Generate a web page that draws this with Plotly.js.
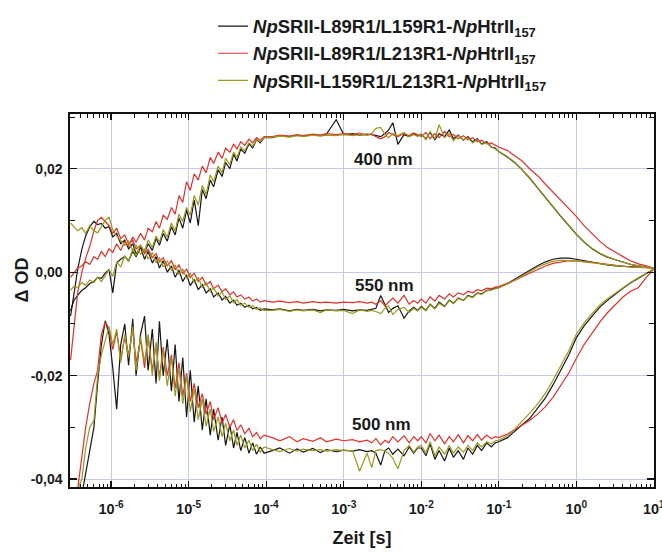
<!DOCTYPE html>
<html>
<head>
<meta charset="utf-8">
<script src="https://cdn.plot.ly/plotly-3.0.1.min.js"></script>
<style>html,body{margin:0;padding:0;background:#fff;}#chart{width:662px;height:554px;}</style>
</head>
<body>
<div id="chart"></div>
<script>
// Time axis (s)
const timeS = [
  3.0e-7, 3.3e-7, 3.7e-7, 4.2e-7, 4.7e-7, 5.3e-7, 6.0e-7, 6.7e-7, 7.5e-7, 8.4e-7,
  9.4e-7, 1.05e-6, 1.18e-6, 1.33e-6, 1.5e-6, 1.68e-6, 1.9e-6, 2.1e-6, 2.4e-6, 2.7e-6,
  3.0e-6, 3.4e-6, 3.8e-6, 4.2e-6, 4.7e-6, 5.3e-6, 6.0e-6, 6.7e-6, 7.5e-6, 8.4e-6,
  9.4e-6, 1.05e-5, 1.18e-5, 1.33e-5, 1.5e-5, 1.68e-5, 1.9e-5, 2.1e-5, 2.4e-5, 2.7e-5,
  3.0e-5, 3.4e-5, 3.8e-5, 4.2e-5, 4.7e-5, 5.3e-5, 6.0e-5, 6.7e-5, 7.5e-5, 8.4e-5,
  9.4e-5,
  1.2e-4, 1.5e-4, 2.0e-4, 2.5e-4, 3.0e-4, 4.0e-4, 5.0e-4, 6.0e-4, 8.0e-4, 1.0e-3,
  1.3e-3, 1.6e-3, 2.0e-3, 2.3e-3, 2.6e-3, 3.0e-3, 3.4e-3, 3.8e-3, 4.3e-3, 5.0e-3,
  6.0e-3, 7.0e-3, 8.0e-3, 9.0e-3,
  1.0e-2, 1.15e-2, 1.3e-2, 1.5e-2, 1.7e-2, 2.0e-2, 2.3e-2, 2.6e-2, 3.0e-2, 3.5e-2,
  4.0e-2, 4.6e-2, 5.3e-2, 6.0e-2, 7.0e-2, 8.0e-2, 9.0e-2,
  0.1, 0.13, 0.16, 0.2, 0.25, 0.32, 0.4, 0.5, 0.63, 0.8,
  1.0, 1.26, 1.6, 2.0, 2.5, 3.2, 4.0, 5.0, 6.3, 8.0, 10
];

// ---- L89R1/L159R1 (black)
const black400 = [
  -0.0075, -0.0055, -0.0045, -0.0035, -0.0030, -0.0022, -0.0018, -0.0010, -0.0012, -0.0002,
  0.0005, -0.0040, 0.0018, 0.0025, 0.0030, 0.0022, 0.0040, 0.0030, 0.0048, 0.0038,
  0.0055, 0.0042, 0.0065, 0.0052, 0.0075, 0.0060, 0.0088, 0.0072, 0.0105, 0.0085,
  0.0120, 0.0095, 0.0140, 0.0090, 0.0160, 0.0142, 0.0178, 0.0165, 0.0198, 0.0185,
  0.0212, 0.0200, 0.0228, 0.0215, 0.0238, 0.0230, 0.0248, 0.0240, 0.0256, 0.0250,
  0.0260,
  0.0260, 0.0264, 0.0262, 0.0265, 0.0263, 0.0266, 0.0264, 0.0267, 0.0295, 0.0266,
  0.0268, 0.0265, 0.0267, 0.0266, 0.0264, 0.0262, 0.0268, 0.0275, 0.0289, 0.0247,
  0.0266, 0.0262, 0.0268, 0.0264,
  0.0266, 0.0258, 0.0270, 0.0256, 0.0268, 0.0262, 0.0275, 0.0258, 0.0265, 0.0255,
  0.0262, 0.0252, 0.0258, 0.0248, 0.0252, 0.0242, 0.0240,
  0.0233, 0.0222, 0.0212, 0.0198, 0.0182, 0.0162, 0.0144, 0.0125, 0.0108, 0.0090,
  0.0073, 0.0058, 0.0045, 0.0036, 0.0029, 0.0024, 0.0019, 0.0015, 0.0012, 0.0010, 0.0008
];
const black550 = [
  -0.0085, -0.0040, 0.0005, 0.0045, 0.0070, 0.0088, 0.0098, 0.0092, 0.0094, 0.0085,
  0.0088, 0.0068, 0.0075, 0.0055, 0.0062, 0.0045, 0.0055, 0.0035, 0.0048, 0.0025,
  0.0040, 0.0018, 0.0030, 0.0008, 0.0022, 0.0000, 0.0012, -0.0010, 0.0004, -0.0018,
  -0.0005, -0.0026, -0.0014, -0.0034, -0.0024, -0.0040, -0.0032, -0.0048, -0.0040, -0.0054,
  -0.0047, -0.0060, -0.0054, -0.0064, -0.0060, -0.0068, -0.0064, -0.0071, -0.0068, -0.0074,
  -0.0071,
  -0.0073, -0.0071, -0.0075, -0.0072, -0.0074, -0.0072, -0.0075, -0.0073, -0.0074, -0.0072,
  -0.0075, -0.0073, -0.0074, -0.0072, -0.0070, -0.0045, -0.0062, -0.0078, -0.0070, -0.0065,
  -0.0089, -0.0075, -0.0068, -0.0074,
  -0.0066, -0.0074, -0.0062, -0.0070, -0.0058, -0.0066, -0.0054, -0.0060, -0.0050, -0.0055,
  -0.0045, -0.0048, -0.0040, -0.0042, -0.0035, -0.0034, -0.0031,
  -0.0030, -0.0022, -0.0014, -0.0005, 0.0004, 0.0013, 0.0020, 0.0025, 0.0027, 0.0027,
  0.0025, 0.0022, 0.0019, 0.0016, 0.0014, 0.0012, 0.0011, 0.0010, 0.0009, 0.0008, 0.0008
];
const black500 = [
  -0.0480, -0.0470, -0.0460, -0.0430, -0.0390, -0.0350, -0.0300, -0.0215, -0.0140, -0.0094,
  -0.0120, -0.0185, -0.0265, -0.0140, -0.0100, -0.0180, -0.0090, -0.0200, -0.0120, -0.0085,
  -0.0190, -0.0110, -0.0215, -0.0095, -0.0200, -0.0130, -0.0230, -0.0140, -0.0250, -0.0165,
  -0.0280, -0.0190, -0.0290, -0.0220, -0.0305, -0.0245, -0.0315, -0.0265, -0.0325, -0.0280,
  -0.0335, -0.0295, -0.0340, -0.0310, -0.0345, -0.0320, -0.0350, -0.0330, -0.0352, -0.0338,
  -0.0350,
  -0.0345, -0.0340, -0.0350, -0.0342, -0.0348, -0.0341, -0.0349, -0.0343, -0.0347, -0.0344,
  -0.0346, -0.0343, -0.0347, -0.0345, -0.0350, -0.0373, -0.0345, -0.0340, -0.0352, -0.0342,
  -0.0355, -0.0338, -0.0350, -0.0340,
  -0.0340, -0.0355, -0.0332, -0.0362, -0.0345, -0.0365, -0.0340, -0.0358, -0.0345, -0.0362,
  -0.0340, -0.0352, -0.0335, -0.0345, -0.0330, -0.0338, -0.0330,
  -0.0328, -0.0320, -0.0307, -0.0295, -0.0283, -0.0263, -0.0243, -0.0218, -0.0190, -0.0160,
  -0.0127, -0.0104, -0.0085, -0.0068, -0.0055, -0.0042, -0.0031, -0.0021, -0.0012, -0.0003, 0.0006
];

// ---- L89R1/L213R1 (red)
const red400 = [
  -0.0010, -0.0002, 0.0008, 0.0012, 0.0020, 0.0015, 0.0030, 0.0025, 0.0040, 0.0030,
  0.0045, 0.0038, 0.0055, 0.0042, 0.0060, 0.0050, 0.0068, 0.0058, 0.0075, 0.0062,
  0.0085, 0.0078, 0.0098, 0.0085, 0.0110, 0.0102, 0.0125, 0.0112, 0.0148, 0.0135,
  0.0175, 0.0158, 0.0190, 0.0178, 0.0205, 0.0192, 0.0222, 0.0210, 0.0232, 0.0220,
  0.0240, 0.0232, 0.0248, 0.0238, 0.0252, 0.0245, 0.0257, 0.0250, 0.0260, 0.0255,
  0.0262,
  0.0262, 0.0265, 0.0263, 0.0266, 0.0264, 0.0267, 0.0265, 0.0268, 0.0266, 0.0268,
  0.0266, 0.0269, 0.0265, 0.0267, 0.0262, 0.0258, 0.0262, 0.0270, 0.0266, 0.0262,
  0.0268, 0.0264, 0.0269, 0.0265,
  0.0262, 0.0270, 0.0258, 0.0268, 0.0260, 0.0272, 0.0262, 0.0266, 0.0258, 0.0264,
  0.0256, 0.0260, 0.0252, 0.0255, 0.0248, 0.0250, 0.0245,
  0.0242, 0.0235, 0.0225, 0.0215, 0.0200, 0.0186, 0.0170, 0.0155, 0.0140, 0.0125,
  0.0108, 0.0090, 0.0074, 0.0060, 0.0048, 0.0038, 0.0030, 0.0022, 0.0016, 0.0012, 0.0008
];
const red550 = [
  -0.0170, -0.0110, -0.0040, 0.0000, 0.0027, 0.0050, 0.0080, 0.0100, 0.0106, 0.0098,
  0.0090, 0.0075, 0.0085, 0.0065, 0.0072, 0.0055, 0.0062, 0.0045, 0.0052, 0.0036,
  0.0044, 0.0028, 0.0036, 0.0020, 0.0028, 0.0012, 0.0022, 0.0005, 0.0014, -0.0003,
  0.0006, -0.0010, -0.0002, -0.0018, -0.0010, -0.0025, -0.0018, -0.0032, -0.0025, -0.0038,
  -0.0032, -0.0044, -0.0038, -0.0048, -0.0044, -0.0052, -0.0048, -0.0056, -0.0052, -0.0058,
  -0.0055,
  -0.0058, -0.0056, -0.0059, -0.0057, -0.0060, -0.0057, -0.0059, -0.0058, -0.0060, -0.0058,
  -0.0059, -0.0057, -0.0060, -0.0058, -0.0062, -0.0055, -0.0065, -0.0058, -0.0050, -0.0060,
  -0.0045, -0.0062, -0.0055, -0.0060,
  -0.0052, -0.0060, -0.0048, -0.0056, -0.0045, -0.0052, -0.0042, -0.0048, -0.0040, -0.0044,
  -0.0037, -0.0040, -0.0034, -0.0036, -0.0031, -0.0032, -0.0029,
  -0.0028, -0.0022, -0.0016, -0.0009, -0.0002, 0.0006, 0.0012, 0.0017, 0.0020, 0.0022,
  0.0022, 0.0021, 0.0019, 0.0017, 0.0015, 0.0013, 0.0011, 0.0010, 0.0009, 0.0008, 0.0008
];
const red500 = [
  -0.0450, -0.0445, -0.0420, -0.0360, -0.0300, -0.0254, -0.0215, -0.0190, -0.0120, -0.0096,
  -0.0110, -0.0150, -0.0115, -0.0170, -0.0125, -0.0160, -0.0110, -0.0175, -0.0130, -0.0185,
  -0.0125, -0.0190, -0.0140, -0.0205, -0.0145, -0.0200, -0.0160, -0.0225, -0.0175, -0.0240,
  -0.0195, -0.0250, -0.0215, -0.0262, -0.0235, -0.0275, -0.0250, -0.0285, -0.0262, -0.0292,
  -0.0275, -0.0300, -0.0285, -0.0306, -0.0295, -0.0312, -0.0302, -0.0318, -0.0310, -0.0322,
  -0.0315,
  -0.0320, -0.0326, -0.0318, -0.0328, -0.0322, -0.0327, -0.0320, -0.0328, -0.0323, -0.0326,
  -0.0324, -0.0328, -0.0325, -0.0330, -0.0322, -0.0334, -0.0325, -0.0330, -0.0318, -0.0328,
  -0.0316, -0.0330, -0.0318, -0.0326,
  -0.0318, -0.0330, -0.0312, -0.0326, -0.0315, -0.0332, -0.0318, -0.0328, -0.0314, -0.0330,
  -0.0316, -0.0326, -0.0314, -0.0325, -0.0315, -0.0322, -0.0318,
  -0.0320, -0.0313, -0.0305, -0.0297, -0.0287, -0.0274, -0.0260, -0.0242, -0.0220, -0.0195,
  -0.0167, -0.0140, -0.0118, -0.0097, -0.0079, -0.0063, -0.0048, -0.0037, -0.0030, -0.0010, 0.0006
];

// ---- L159R1/L213R1 (olive)
const olive400 = [
  -0.0035, -0.0028, -0.0030, -0.0020, -0.0025, -0.0015, -0.0020, -0.0010, -0.0018, -0.0005,
  0.0005, -0.0008, 0.0020, 0.0010, 0.0032, 0.0020, 0.0045, 0.0032, 0.0052, 0.0040,
  0.0062, 0.0048, 0.0070, 0.0058, 0.0082, 0.0068, 0.0095, 0.0080, 0.0112, 0.0098,
  0.0125, 0.0110, 0.0148, 0.0130, 0.0168, 0.0150, 0.0188, 0.0175, 0.0205, 0.0192,
  0.0220, 0.0208, 0.0232, 0.0222, 0.0242, 0.0235, 0.0250, 0.0244, 0.0256, 0.0252,
  0.0260,
  0.0261, 0.0263, 0.0261, 0.0264, 0.0262, 0.0265, 0.0263, 0.0265, 0.0264, 0.0266,
  0.0264, 0.0266, 0.0265, 0.0268, 0.0278, 0.0280, 0.0266, 0.0260, 0.0268, 0.0264,
  0.0270, 0.0262, 0.0266, 0.0262,
  0.0268, 0.0256, 0.0272, 0.0258, 0.0285, 0.0260, 0.0268, 0.0254, 0.0264, 0.0256,
  0.0260, 0.0250, 0.0256, 0.0247, 0.0250, 0.0242, 0.0238,
  0.0234, 0.0223, 0.0213, 0.0199, 0.0183, 0.0163, 0.0145, 0.0126, 0.0109, 0.0091,
  0.0074, 0.0059, 0.0046, 0.0037, 0.0030, 0.0024, 0.0019, 0.0015, 0.0012, 0.0010, 0.0008
];
const olive550 = [
  0.0095, 0.0088, 0.0080, 0.0086, 0.0075, 0.0090, 0.0080, 0.0076, 0.0088, 0.0100,
  0.0106, 0.0082, 0.0070, 0.0060, 0.0052, 0.0060, 0.0042, 0.0052, 0.0035, 0.0045,
  0.0025, 0.0038, 0.0018, 0.0028, 0.0010, 0.0022, 0.0003, 0.0014, -0.0005, 0.0006,
  -0.0012, -0.0002, -0.0020, -0.0010, -0.0030, -0.0020, -0.0038, -0.0030, -0.0046, -0.0038,
  -0.0053, -0.0046, -0.0059, -0.0053, -0.0064, -0.0060, -0.0068, -0.0065, -0.0072, -0.0069,
  -0.0074,
  -0.0074, -0.0072, -0.0076, -0.0073, -0.0075, -0.0073, -0.0078, -0.0073, -0.0075, -0.0074,
  -0.0080, -0.0073, -0.0076, -0.0074, -0.0076, -0.0080, -0.0070, -0.0065, -0.0082, -0.0072,
  -0.0068, -0.0078, -0.0070, -0.0075,
  -0.0068, -0.0075, -0.0063, -0.0071, -0.0060, -0.0067, -0.0055, -0.0061, -0.0051, -0.0055,
  -0.0046, -0.0049, -0.0041, -0.0043, -0.0036, -0.0035, -0.0032,
  -0.0030, -0.0023, -0.0015, -0.0007, 0.0002, 0.0010, 0.0016, 0.0021, 0.0023, 0.0023,
  0.0022, 0.0020, 0.0018, 0.0016, 0.0014, 0.0012, 0.0011, 0.0010, 0.0009, 0.0008, 0.0008
];
const olive500 = [
  -0.0470, -0.0450, -0.0420, -0.0400, -0.0340, -0.0300, -0.0287, -0.0200, -0.0160, -0.0130,
  -0.0105, -0.0140, -0.0110, -0.0175, -0.0120, -0.0165, -0.0105, -0.0190, -0.0125, -0.0175,
  -0.0120, -0.0200, -0.0135, -0.0210, -0.0150, -0.0220, -0.0165, -0.0240, -0.0185, -0.0255,
  -0.0200, -0.0270, -0.0225, -0.0285, -0.0245, -0.0298, -0.0265, -0.0308, -0.0280, -0.0318,
  -0.0292, -0.0326, -0.0305, -0.0335, -0.0315, -0.0340, -0.0325, -0.0345, -0.0333, -0.0348,
  -0.0338,
  -0.0343, -0.0347, -0.0341, -0.0346, -0.0342, -0.0345, -0.0343, -0.0346, -0.0343, -0.0345,
  -0.0345, -0.0385, -0.0350, -0.0378, -0.0345, -0.0343, -0.0346, -0.0350, -0.0360, -0.0380,
  -0.0345, -0.0335, -0.0348, -0.0338,
  -0.0335, -0.0350, -0.0328, -0.0355, -0.0338, -0.0352, -0.0335, -0.0350, -0.0338, -0.0348,
  -0.0335, -0.0345, -0.0330, -0.0338, -0.0328, -0.0332, -0.0326,
  -0.0325, -0.0316, -0.0304, -0.0288, -0.0273, -0.0254, -0.0234, -0.0209, -0.0182, -0.0152,
  -0.0120, -0.0098, -0.0080, -0.0064, -0.0052, -0.0040, -0.0030, -0.0020, -0.0011, -0.0003, 0.0006
];

const seriesNames = [
  '<i>Np</i>SRII-L89R1/L159R1-<i>Np</i>HtrII<sub>157</sub>',
  '<i>Np</i>SRII-L89R1/L213R1-<i>Np</i>HtrII<sub>157</sub>',
  '<i>Np</i>SRII-L159R1/L213R1-<i>Np</i>HtrII<sub>157</sub>'
];
const seriesColors = ['#161616', '#e3302c', '#9a9a1c'];
const seriesData = [
  [black400, black550, black500],
  [red400, red550, red500],
  [olive400, olive550, olive500]
];
const wavelengthLabels = ['400 nm', '550 nm', '500 nm'];
const labelX = [0.0033, 0.0034, 0.0031];      // s
const labelY = [0.0217, -0.0025, -0.0294];

const xTickVals = [1e-6, 1e-5, 1e-4, 1e-3, 1e-2, 1e-1, 1, 10];
const xTickText = ['10<sup>-6</sup>', '10<sup>-5</sup>', '10<sup>-4</sup>', '10<sup>-3</sup>',
                   '10<sup>-2</sup>', '10<sup>-1</sup>', '10<sup>0</sup>', '10<sup>1</sup>'];
const yTickVals = [-0.04, -0.02, 0.0, 0.02];
const yTickText = ['-0,04', '-0,02', '0,00', '0,02'];
const yMinorVals = [-0.03, -0.01, 0.01, 0.03];

// minor tick positions 2..9 in each decade
const xMinorVals = [];
for (let d = -7; d <= 0; d++) for (let m = 2; m <= 9; m++) xMinorVals.push(m * Math.pow(10, d));

const traces = [];
seriesData.forEach((set, si) => {
  set.forEach((vals, wi) => {
    traces.push({
      x: timeS, y: vals, type: 'scatter', mode: 'lines',
      name: seriesNames[si], legendgroup: 'g' + si, showlegend: wi === 0,
      line: {color: seriesColors[si], width: 1.2},
      hoverinfo: 'skip'
    });
  });
});

const FONT = '"Liberation Sans", Arial, sans-serif';
const layout = {
  width: 662, height: 554,
  margin: {l: 70, r: 8, t: 112, b: 67, pad: 0},
  paper_bgcolor: '#ffffff', plot_bgcolor: '#ffffff',
  separators: ',.',
  font: {family: FONT, color: '#1a1a1a'},
  showlegend: true,
  legend: {
    x: 0.245, y: 1.285, xanchor: 'left', yanchor: 'top',
    bgcolor: 'rgba(0,0,0,0)', borderwidth: 0, tracegroupgap: 0,
    font: {family: FONT, size: 18.5, weight: 'bold', color: '#1a1a1a'}
  },
  xaxis: {
    type: 'log', range: [Math.log10(2.95e-7), 1.002],
    tickmode: 'array', tickvals: xTickVals, ticktext: xTickText,
    ticks: 'inside', ticklen: 6, tickwidth: 1.3, tickcolor: '#111',
    minor: {tickmode: 'array', tickvals: xMinorVals, ticks: 'inside', ticklen: 3.5, tickwidth: 1, tickcolor: '#111', showgrid: false},
    showline: true, linecolor: '#111', linewidth: 1.6, mirror: 'ticks',
    showgrid: true, gridcolor: '#c6c9ef', gridwidth: 1, zeroline: false,
    ticklabelstandoff: 8, ticklabeloverflow: 'allow',
    tickfont: {family: FONT, size: 14.5, weight: 'bold', color: '#1a1a1a'},
    title: {text: 'Zeit [s]', font: {family: FONT, size: 18, weight: 'bold', color: '#1a1a1a'}, standoff: 15}
  },
  yaxis: {
    range: [-0.04154, 0.03058],
    tickmode: 'array', tickvals: yTickVals, ticktext: yTickText,
    ticks: 'inside', ticklen: 7, tickwidth: 1.3, tickcolor: '#111',
    minor: {tickmode: 'array', tickvals: yMinorVals, ticks: 'inside', ticklen: 5, tickwidth: 1, tickcolor: '#111', showgrid: false},
    showline: true, linecolor: '#111', linewidth: 1.6, mirror: 'ticks',
    showgrid: true, gridcolor: '#c6c9ef', gridwidth: 1, zeroline: false,
    ticklabelstandoff: 3,
    tickfont: {family: FONT, size: 14, weight: 'bold', color: '#1a1a1a'}
  },
  annotations: wavelengthLabels.map((t, i) => ({
    x: Math.log10(labelX[i]), y: labelY[i], xref: 'x', yref: 'y',
    text: t, showarrow: false,
    font: {family: FONT, size: 17, weight: 'bold', color: '#1a1a1a'}
  })).concat([{
    xref: 'paper', yref: 'paper', x: -0.083, y: 0.555,
    xanchor: 'center', yanchor: 'middle',
    text: 'Δ OD', textangle: -90, showarrow: false,
    font: {family: FONT, size: 18, weight: 'bold', color: '#1a1a1a'}
  }])
};

Plotly.newPlot('chart', traces, layout, {staticPlot: true, displayModeBar: false}).then(() => {
  const bad = [];
  seriesData.forEach((set, si) => set.forEach((v, wi) => { if (v.length !== timeS.length) bad.push(si + '/' + wi + ':' + v.length); }));
  if (bad.length) throw new Error('length mismatch ' + timeS.length + ' ' + bad.join(','));
});
</script>
</body>
</html>
